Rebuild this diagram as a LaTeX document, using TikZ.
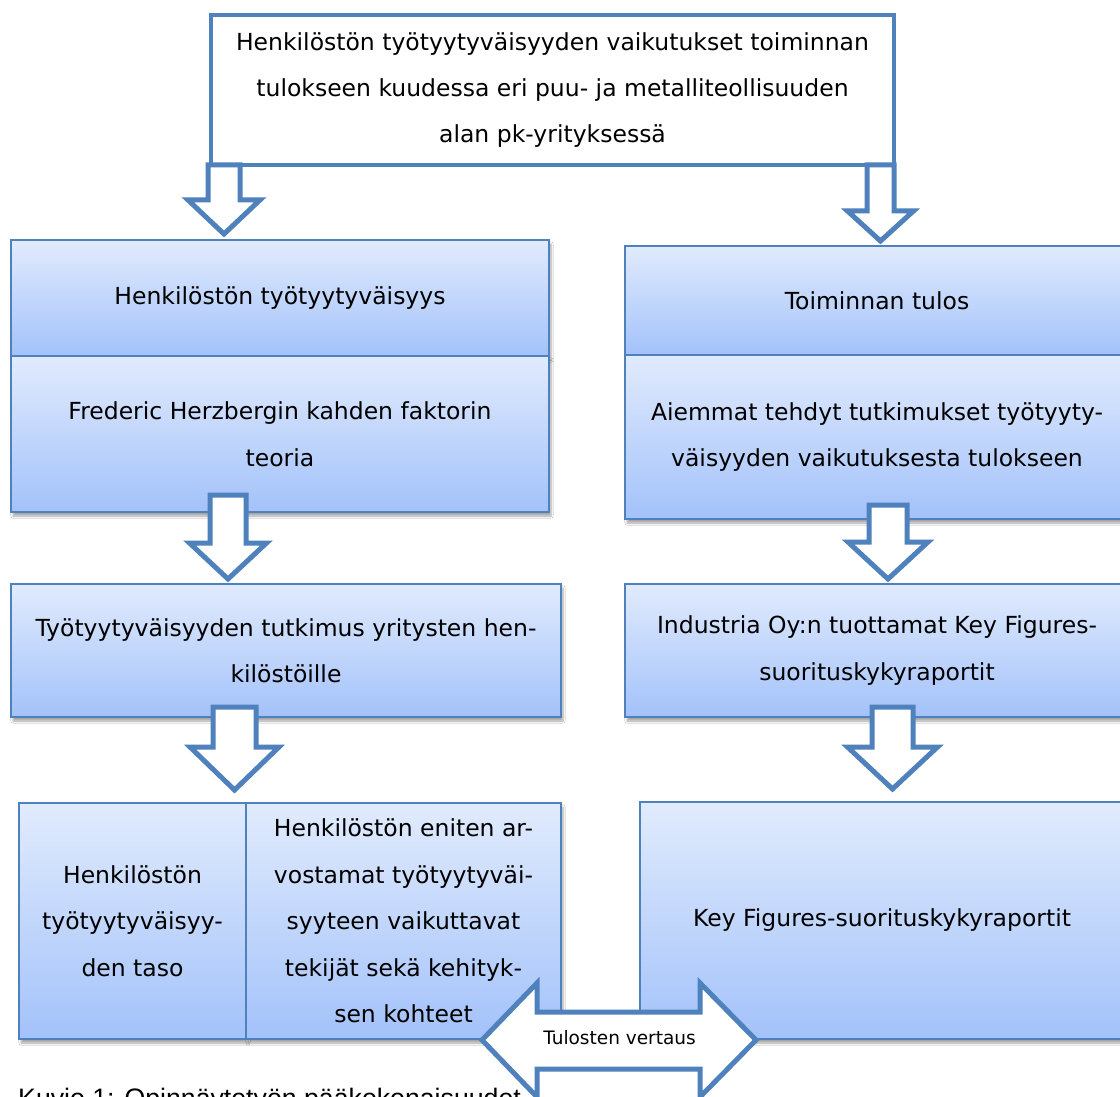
\documentclass[tikz,border=0pt]{standalone}
\usepackage{fontspec}
\setmainfont{DejaVu Sans}
\newfontfamily\capfont{Liberation Sans}
\usetikzlibrary{shadows.blur}
\definecolor{bluebd}{RGB}{79,129,189}
\definecolor{gtop}{RGB}{225,235,253}
\definecolor{gbot}{RGB}{163,194,250}
\tikzset{
  gbox/.style={draw=bluebd, line width=2pt, top color=gtop, bottom color=gbot,
    inner sep=0pt, outer sep=0pt, align=center,
    font=\fontsize{23.5}{46.5}\selectfont,
    blur shadow={shadow xshift=2pt, shadow yshift=-4pt, shadow blur steps=6, shadow opacity=35}},
  topbox/.style={draw=bluebd, line width=4.5pt, fill=white, inner sep=0pt, outer sep=0pt,
    align=center, font=\fontsize{23.5}{46}\selectfont},
  blockarrow/.style={draw=bluebd, line width=5pt, fill=white, line join=miter},
}
% \dnarrow{cx}{shaft half}{head half}{top}{head}{tip}
\newcommand{\dnarrow}[6]{%
  \draw[blockarrow] (#1-#2,#4) -- (#1-#2,#5) -- (#1-#3,#5) -- (#1,#6) -- (#1+#3,#5)
    -- (#1+#2,#5) -- (#1+#2,#4) -- cycle;}
\begin{document}
\begin{tikzpicture}[x=1pt,y=-1pt]
\useasboundingbox (0,0) rectangle (1120,1097);
\clip (0,0) rectangle (1120,1097);
\fill[white] (0,0) rectangle (1120,1097);

% top box
\node[topbox, minimum width=683pt, minimum height=150pt] (top) at (552.5,90)
  {Henkilöstön työtyytyväisyyden vaikutukset toiminnan\\
   tulokseen kuudessa eri puu- ja metalliteollisuuden\\
   alan pk-yrityksessä};

% left column
\node[gbox, minimum width=538pt, minimum height=116pt] (l1a) at (280,298)
  {Henkilöstön työtyytyväisyys};
\node[gbox, minimum width=538pt, minimum height=156pt] (l1b) at (280,434)
  {Frederic Herzbergin kahden faktorin\\teoria};
\node[gbox, minimum width=550pt, minimum height=133pt] (l2) at (286,650.5)
  {Työtyytyväisyyden tutkimus yritysten hen-\\kilöstöille};
\node[gbox, minimum width=227pt, minimum height=236pt] (l3a) at (132.5,921)
  {Henkilöstön\\työtyytyväisyy-\\den taso};
\node[gbox, minimum width=315pt, minimum height=236pt] (l3b) at (403.5,921)
  {Henkilöstön eniten ar-\\vostamat työtyytyväi-\\syyteen vaikuttavat\\tekijät sekä kehityk-\\sen kohteet};

% right column
\node[gbox, minimum width=504pt, minimum height=109pt] (r1a) at (877,300.5)
  {Toiminnan tulos};
\node[gbox, minimum width=504pt, minimum height=164pt] (r1b) at (877,437)
  {Aiemmat tehdyt tutkimukset työtyyty-\\väisyyden vaikutuksesta tulokseen};
\node[gbox, minimum width=504pt, minimum height=133pt] (r2) at (877,650.5)
  {Industria Oy:n tuottamat Key Figures-\\suorituskykyraportit};
\node[gbox, minimum width=484pt, minimum height=237pt] (r3) at (882,920.5)
  {Key Figures-suorituskykyraportit};

% block arrows
\dnarrow{224}{16}{36}{165}{200}{234}
\dnarrow{880.5}{13.5}{33}{165}{211}{241}
\dnarrow{228}{18}{38.5}{495}{543}{579}
\dnarrow{888}{19}{40}{505}{542}{579}
\dnarrow{234.5}{21.5}{44.5}{707}{747}{790}
\dnarrow{892.5}{20.5}{45}{707}{747}{789}

% double arrow
\draw[blockarrow] (482,1040) -- (537,983) -- (537,1012) -- (700,1012) -- (700,983)
  -- (756,1040) -- (700,1097) -- (700,1069) -- (537,1069) -- (537,1097) -- cycle;
\node[font=\fontsize{18.5}{22}\selectfont, inner sep=0pt] (cmp) at (619.5,1038) {Tulosten vertaus};

% caption
\node[anchor=base west, inner sep=0pt, font=\capfont\fontsize{26.7}{32}\selectfont] (cap)
  at (18,1107) {Kuvio 1: Opinnäytetyön pääkokonaisuudet};
\end{tikzpicture}
\end{document}
